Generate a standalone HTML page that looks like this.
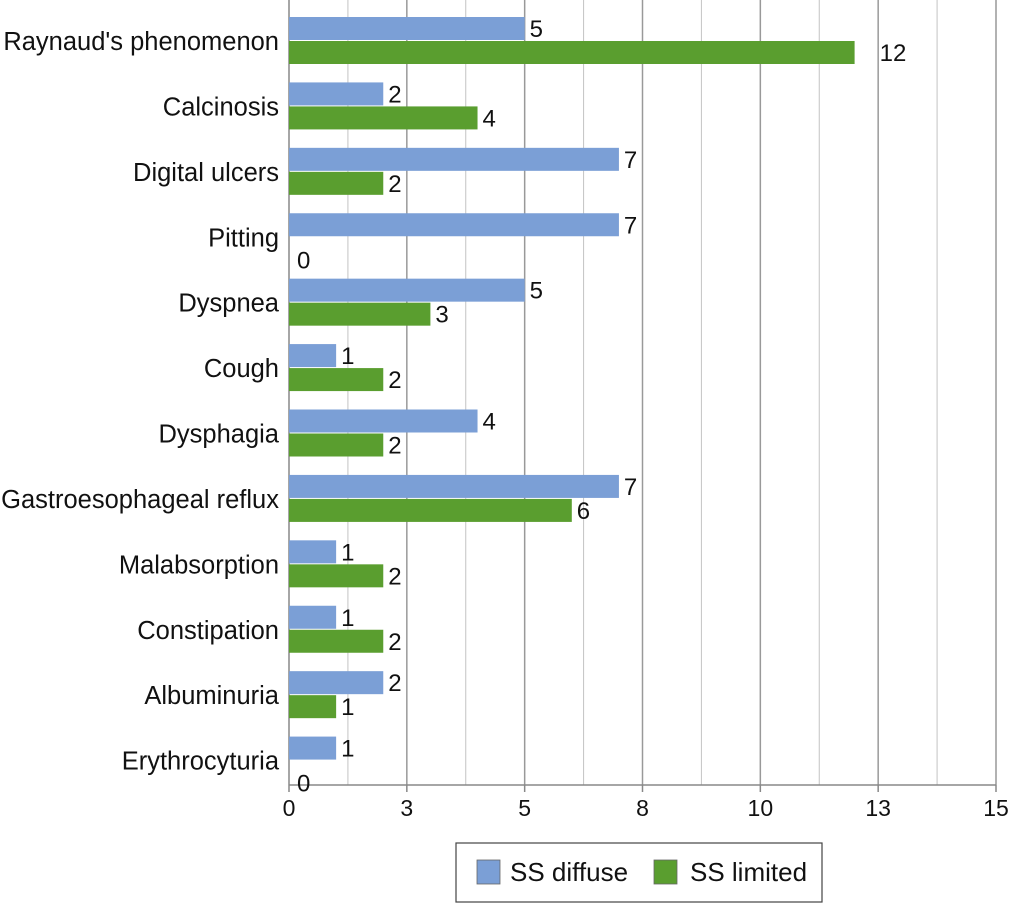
<!DOCTYPE html>
<html><head><meta charset="utf-8"><style>
body{margin:0;background:#fff;}
svg text{font-family:"Liberation Sans",sans-serif;font-size:23px;fill:#111;}
svg text.cat{font-size:25.5px;}
svg text.val{font-size:24px;}
svg text.leg{font-size:26px;}
</style></head><body>
<svg id="chart" width="1012" height="904"></svg>
<script>
const categories=["Raynaud's phenomenon","Calcinosis","Digital ulcers","Pitting","Dyspnea","Cough","Dysphagia","Gastroesophageal reflux","Malabsorption","Constipation","Albuminuria","Erythrocyturia"];
const diffuse=[5,2,7,7,5,1,4,7,1,1,2,1];
const limited=[12,4,2,0,3,2,2,6,2,2,1,0];
const tickValues=[0,2.5,5,7.5,10,12.5,15];
const tickLabels=["0","3","5","8","10","13","15"];
const svg=document.getElementById('chart');
const NS='http://www.w3.org/2000/svg';
const x0=289,x1=996,xMax=15,top0=0,bottom=785;
const gh=(bottom-top0)/categories.length;
const xs=v=>x0+v/xMax*(x1-x0);
function mk(t,a,p){const e=document.createElementNS(NS,t);for(const k in a)e.setAttribute(k,a[k]);(p||svg).appendChild(e);return e;}
for(let g=1;g<=12;g++){const v=g*1.25;const l=mk('line',{x1:xs(v),x2:xs(v),y1:top0,y2:bottom,stroke:g%2==0?'#999':'#c4c4c4','stroke-width':g%2==0?1.5:1});

}
const ax=mk('line',{x1:x0,x2:x1,y1:bottom,y2:bottom,stroke:'#888','stroke-width':1.5});


const ay=mk('line',{x1:x0,x2:x0,y1:top0,y2:bottom,stroke:'#888','stroke-width':1.5});


tickValues.forEach((v,i)=>{
const t=mk('line',{x1:xs(v),x2:xs(v),y1:bottom,y2:bottom+7,stroke:'#888','stroke-width':1.5});


const tx=mk('text',{x:xs(v),y:bottom+31,'text-anchor':'middle'});tx.textContent=tickLabels[i];

});
categories.forEach((c,i)=>{
const gy=top0+i*gh;
const lt=mk('text',{x:279,y:gy+50,'text-anchor':'end','class':'cat'});lt.textContent=c;


[[diffuse[i],'#7b9fd6',17,'bar-diffuse'],[limited[i],'#5a9e2f',41,'bar-limited']].forEach(([v,col,off,nm])=>{
const b=mk('rect',{x:x0,y:gy+off,width:xs(v)-x0,height:23,fill:col});


const vt=mk('text',{x:xs(v)+(v==0?8:(v>=10?25:5)),y:gy+off+(v==0?31:20),'class':'val'});vt.textContent=v;

});
});
const lg=mk('g',{});


mk('rect',{x:456,y:843,width:366,height:59,fill:'#fff',stroke:'#444','stroke-width':1.2},lg);
[[477,'#7b9fd6','SS diffuse',510],[654,'#5a9e2f','SS limited',690]].forEach(([sx,col,lab,tx])=>{
const e=mk('g',{},lg);


mk('rect',{x:sx,y:860,width:23,height:24,fill:col,stroke:'#666','stroke-width':0.8},e);
const t=mk('text',{x:tx,y:881,'class':'leg'},e);t.textContent=lab;});
</script></body></html>
